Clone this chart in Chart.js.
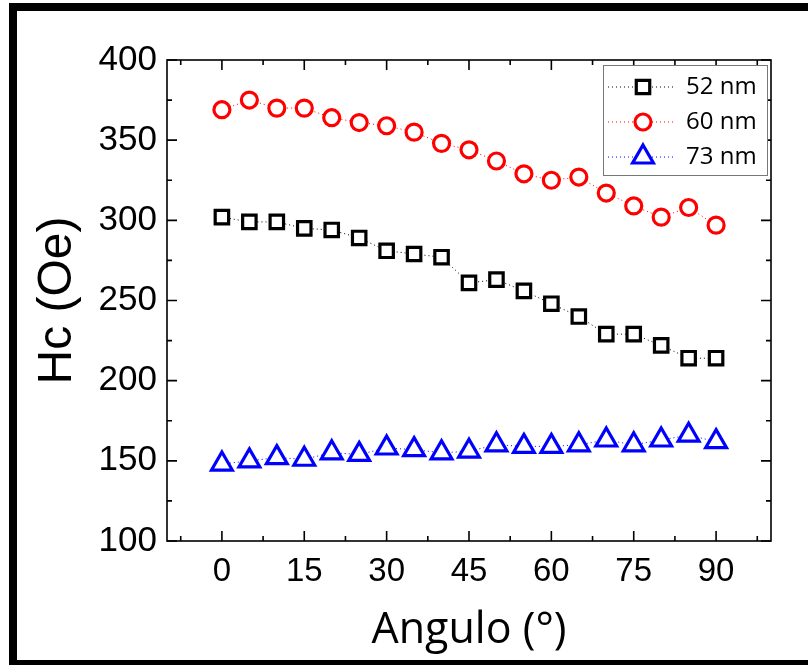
<!DOCTYPE html>
<html>
<head>
<meta charset="utf-8">
<script src="https://cdn.jsdelivr.net/npm/chart.js@4.4.0/dist/chart.umd.min.js"></script>
<style>
  html, body { margin: 0; padding: 0; background: #fff; }
</style>
</head>
<body>
<canvas id="hcChart" width="808" height="665"></canvas>
<script>
// values
var angles = [0, 5, 10, 15, 20, 25, 30, 35, 40, 45, 50, 55, 60, 65, 70, 75, 80, 85, 90];
var hc52 = [302, 299, 299, 295, 294, 289, 281, 279, 277, 261, 263, 256, 248, 240, 229, 229, 222, 214, 214];
var hc60 = [369, 375, 370, 370, 364, 361, 359, 355, 348, 344, 337, 329, 325, 327, 317, 309, 302, 308, 297];
var hc73 = [148, 150, 152, 151, 155, 154, 158, 157, 155, 156, 160, 159, 159, 160, 163, 160, 163, 166, 162];
var seriesNames = ['52 nm', '60 nm', '73 nm'];
var xTicks = [0, 15, 30, 45, 60, 75, 90];
var yTicks = [100, 150, 200, 250, 300, 350, 400];

function toPoints(ys) {
  return angles.map(function(a, i) { return { x: a, y: ys[i] }; });
}

function makeSet(label, ys, color, style, radius) {
  return {
    label: label,
    data: toPoints(ys),
    borderColor: color,
    borderWidth: 1,
    borderDash: [1, 3],
    pointStyle: style,
    pointRadius: radius,
    pointHoverRadius: radius,
    pointBorderColor: color,
    pointBackgroundColor: '#fff',
    pointBorderWidth: 3.2,
    fill: false,
    tension: 0
  };
}

// frame, inward ticks and the boxed legend
var axisBox = {
  id: 'axisBox',
  beforeDraw: function(chart) {
    var c = chart.ctx;
    c.save();
    c.fillStyle = '#fff';
    c.fillRect(0, 0, chart.width, chart.height);
    c.fillStyle = '#000';
    c.fillRect(9, 3, 8, 662);
    c.fillRect(9, 3, 799, 8);
    c.fillRect(9, 660, 799, 5);
    c.restore();
  },
  afterDraw: function(chart) {
    var c = chart.ctx, a = chart.chartArea;
    var xs = chart.scales.x, ys = chart.scales.y;
    c.save();
    c.strokeStyle = '#000';
    c.lineWidth = 1.6;
    c.strokeRect(a.left, a.top, a.right - a.left, a.bottom - a.top);

    var xMinor = xTicks.map(function(v) { return v - 7.5; }).concat([xTicks[xTicks.length - 1] + 7.5]);
    var yMinor = yTicks.slice(1).map(function(v) { return v - 25; });

    c.beginPath();
    xTicks.forEach(function(v) {
      var px = xs.getPixelForValue(v);
      c.moveTo(px, a.bottom); c.lineTo(px, a.bottom - 10);
      c.moveTo(px, a.top); c.lineTo(px, a.top + 10);
    });
    xMinor.forEach(function(v) {
      var px = xs.getPixelForValue(v);
      c.moveTo(px, a.bottom); c.lineTo(px, a.bottom - 5);
      c.moveTo(px, a.top); c.lineTo(px, a.top + 5);
    });
    yTicks.forEach(function(v) {
      var py = ys.getPixelForValue(v);
      c.moveTo(a.left, py); c.lineTo(a.left + 10, py);
      c.moveTo(a.right, py); c.lineTo(a.right - 10, py);
    });
    yMinor.forEach(function(v) {
      var py = ys.getPixelForValue(v);
      c.moveTo(a.left, py); c.lineTo(a.left + 5, py);
      c.moveTo(a.right, py); c.lineTo(a.right - 5, py);
    });
    c.stroke();

    // legend box
    var bx = a.right - 168, by = a.top + 5, bw = 164, bh = 110;
    c.fillStyle = '#fff';
    c.fillRect(bx, by, bw, bh);
    c.strokeStyle = '#777';
    c.lineWidth = 1;
    c.strokeRect(bx + 0.5, by + 0.5, bw, bh);

    chart.data.datasets.forEach(function(ds, i) {
      var rowY = by + 22 + i * 35;
      c.save();
      c.strokeStyle = ds.borderColor;
      c.lineWidth = 1;
      c.setLineDash([1, 3]);
      c.beginPath();
      c.moveTo(bx + 5, rowY);
      c.lineTo(bx + 70, rowY);
      c.stroke();
      c.restore();

      c.save();
      c.strokeStyle = ds.pointBorderColor;
      c.fillStyle = '#fff';
      c.lineWidth = ds.pointBorderWidth;
      Chart.helpers.drawPoint(c, {
        pointStyle: ds.pointStyle,
        radius: ds.pointRadius,
        rotation: 0,
        borderWidth: ds.pointBorderWidth
      }, bx + 40, rowY);
      c.restore();

      c.fillStyle = '#000';
      c.font = '24px "Open Sans"';
      c.textBaseline = 'middle';
      c.textAlign = 'left';
      c.fillText(ds.label, bx + 83, rowY);
    });
    c.restore();
  }
};

var ctx = document.getElementById('hcChart').getContext('2d');
var hcChart = new Chart(ctx, {
  type: 'line',
  data: {
    datasets: [
      makeSet(seriesNames[0], hc52, '#000000', 'rect', 9.5),
      makeSet(seriesNames[1], hc60, '#ff0000', 'circle', 8),
      makeSet(seriesNames[2], hc73, '#0000ff', 'triangle', 12)
    ]
  },
  options: {
    responsive: false,
    animation: false,
    layout: { padding: { left: 0, right: 37, top: 60, bottom: 0 } },
    plugins: {
      legend: { display: false },
      tooltip: { enabled: false }
    },
    scales: {
      x: {
        type: 'linear',
        min: -10,
        max: 100,
        afterBuildTicks: function(scale) {
          scale.ticks = xTicks.map(function(v) { return { value: v }; });
        },
        afterFit: function(scale) { scale.height = 124; },
        grid: { display: false, drawTicks: false },
        border: { display: false },
        ticks: {
          color: '#000',
          padding: 11,
          font: { family: '"Liberation Sans", Arial', size: 33 },
          maxRotation: 0
        },
        title: {
          display: true,
          text: 'Angulo (°)',
          color: '#000',
          font: { family: '"Open Sans"', size: 43 },
          padding: { top: 0, bottom: 8 }
        }
      },
      y: {
        type: 'linear',
        min: 100,
        max: 400,
        afterBuildTicks: function(scale) {
          scale.ticks = yTicks.map(function(v) { return { value: v }; });
        },
        afterFit: function(scale) { scale.width = 167; },
        grid: { display: false, drawTicks: false },
        border: { display: false },
        ticks: {
          color: '#000',
          padding: 10,
          font: { family: '"Liberation Sans", Arial', size: 35 }
        },
        title: {
          display: true,
          text: 'Hc (Oe)',
          color: '#000',
          font: { family: '"Liberation Sans", Arial', size: 48 },
          padding: { top: 29, bottom: 0 }
        }
      }
    }
  },
  plugins: [axisBox]
});
</script>
</body>
</html>
